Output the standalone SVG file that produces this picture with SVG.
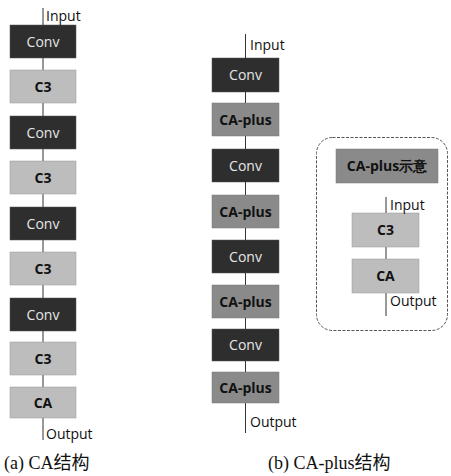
<svg xmlns="http://www.w3.org/2000/svg" width="451" height="476" viewBox="0 0 451 476">
<style>
.conv{fill:#2e2e2e;stroke:#555;stroke-width:0.5}
.c3{fill:#bdbdbd;stroke:#999;stroke-width:0.5}
.cap{fill:#8a8a8a;stroke:#777;stroke-width:0.5}
.tl{font-family:"Open Sans","DejaVu Sans",sans-serif;font-size:14px;text-anchor:middle}
.tw{fill:#e6e6e6}
.tb{fill:#111;font-weight:bold}
.io{font-family:"Open Sans","DejaVu Sans",sans-serif;font-size:14px;fill:#111}
.ln{stroke:#333;stroke-width:1;fill:none}
.cap2{font-family:"Liberation Serif","Noto Sans CJK SC",serif;font-size:18px;fill:#111}
</style>
<rect width="451" height="476" fill="#fff"/>
<g id="connectors">
<line class="ln" x1="43" y1="8" x2="43" y2="440"/>
<line class="ln" x1="245.5" y1="34" x2="245.5" y2="433"/>
<line class="ln" x1="386" y1="197" x2="386" y2="316"/>
</g>
<g id="a-conv1"><rect class="conv" x="10" y="25" width="66" height="33"/><text class="tl tw" x="43" y="47">Conv</text></g>
<g id="a-c3-1"><rect class="c3" x="10" y="70" width="66" height="33"/><text class="tl tb" x="43" y="92">C3</text></g>
<g id="a-conv2"><rect class="conv" x="10" y="116" width="66" height="33"/><text class="tl tw" x="43" y="138">Conv</text></g>
<g id="a-c3-2"><rect class="c3" x="10" y="161" width="66" height="33"/><text class="tl tb" x="43" y="183">C3</text></g>
<g id="a-conv3"><rect class="conv" x="10" y="207" width="66" height="33"/><text class="tl tw" x="43" y="229">Conv</text></g>
<g id="a-c3-3"><rect class="c3" x="10" y="252" width="66" height="33"/><text class="tl tb" x="43" y="274">C3</text></g>
<g id="a-conv4"><rect class="conv" x="10" y="298" width="66" height="33"/><text class="tl tw" x="43" y="320">Conv</text></g>
<g id="a-c3-4"><rect class="c3" x="10" y="342" width="66" height="33"/><text class="tl tb" x="43" y="364">C3</text></g>
<g id="a-ca"><rect class="c3" x="10" y="387" width="66" height="31"/><text class="tl tb" x="43" y="408">CA</text></g>
<g id="a-labels">
<text class="io" x="46" y="21">Input</text>
<text class="io" x="46" y="439">Output</text>
<text class="cap2" x="4" y="469">(a) CA结构</text>
</g>
<g id="b-conv1"><rect class="conv" x="212" y="58" width="67" height="34"/><text class="tl tw" x="245.5" y="80">Conv</text></g>
<g id="b-cap1"><rect class="cap" x="212" y="103" width="67" height="33"/><text class="tl tb" x="245.5" y="125">CA-plus</text></g>
<g id="b-conv2"><rect class="conv" x="212" y="149" width="67" height="33"/><text class="tl tw" x="245.5" y="171">Conv</text></g>
<g id="b-cap2"><rect class="cap" x="212" y="195" width="67" height="33"/><text class="tl tb" x="245.5" y="217">CA-plus</text></g>
<g id="b-conv3"><rect class="conv" x="212" y="240" width="67" height="33"/><text class="tl tw" x="245.5" y="262">Conv</text></g>
<g id="b-cap3"><rect class="cap" x="212" y="285" width="67" height="33"/><text class="tl tb" x="245.5" y="307">CA-plus</text></g>
<g id="b-conv4"><rect class="conv" x="212" y="329" width="67" height="32"/><text class="tl tw" x="245.5" y="350">Conv</text></g>
<g id="b-cap4"><rect class="cap" x="212" y="372" width="67" height="31"/><text class="tl tb" x="245.5" y="393">CA-plus</text></g>
<g id="b-labels">
<text class="io" x="250" y="50">Input</text>
<text class="io" x="250" y="427">Output</text>
<text class="cap2" x="268" y="469">(b) CA-plus结构</text>
</g>
<g id="legend">
<rect x="316.5" y="137.5" width="131" height="193" rx="16" fill="none" stroke="#555" stroke-width="1" stroke-dasharray="3,1.5"/>
<rect class="cap" x="336" y="149" width="102" height="34"/>
<text class="tl tb" x="387" y="171" font-size="15" font-family="'Open Sans','Noto Sans CJK SC',sans-serif">CA-plus示意</text>
</g>
<g id="legend-c3"><rect class="c3" x="352" y="213" width="67" height="34"/><text class="tl tb" x="385.5" y="235">C3</text></g>
<g id="legend-ca"><rect class="c3" x="352" y="259" width="67" height="34"/><text class="tl tb" x="385.5" y="281">CA</text></g>
<g id="legend-labels">
<text class="io" x="390" y="210">Input</text>
<text class="io" x="390" y="306">Output</text>
</g>
</svg>
